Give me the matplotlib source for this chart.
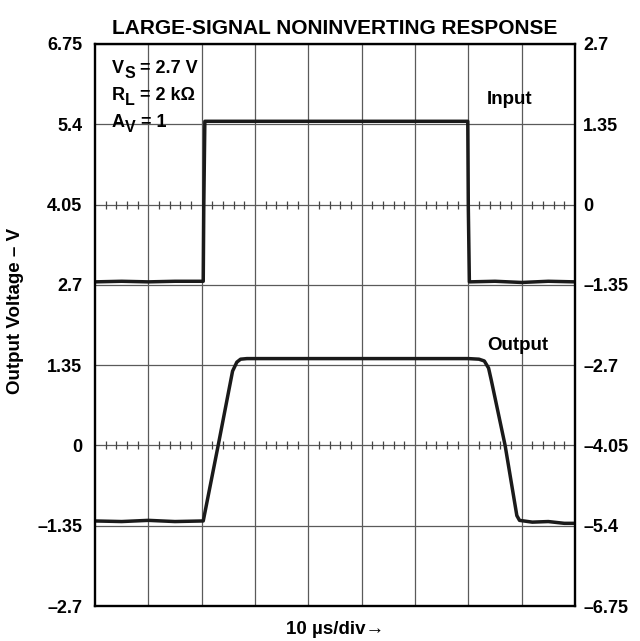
"""Large-signal noninverting response (scope trace)"""

import matplotlib
matplotlib.use('Agg')
from matplotlib import pyplot as plt
from matplotlib.transforms import IdentityTransform

plt.rcParams['font.family'] = ['Liberation Sans', 'DejaVu Sans']
plt.rcParams['font.weight'] = 'bold'

# time in us (10 us/div, 9 divisions)
input_t = [0, 5, 10, 15, 20.3, 20.4, 20.6, 30, 45, 60, 69.9, 70.0, 70.2, 75, 80, 85, 90]
input_v = [2.75, 2.76, 2.75, 2.76, 2.76, 4.0, 5.45, 5.45, 5.45, 5.45, 5.45, 4.0, 2.75, 2.76, 2.74, 2.76, 2.75]

output_t = [0, 5, 10, 15, 20.3, 23.1, 25.8, 26.6, 27.3, 28.5, 40, 55, 70, 72.0, 73.0, 73.8, 74.3,
            76.9, 79.1, 79.6, 82, 85, 88, 90]
output_v = [-1.27, -1.28, -1.26, -1.28, -1.27, 0.0, 1.25, 1.40, 1.45, 1.46, 1.46, 1.46, 1.46, 1.45,
            1.42, 1.30, 1.10, 0.0, -1.18, -1.26, -1.29, -1.28, -1.31, -1.31]

left_ticks = [-2.7, -1.35, 0, 1.35, 2.7, 4.05, 5.4, 6.75]
left_labels = ['\u20132.7', '\u20131.35', '0', '1.35', '2.7', '4.05', '5.4', '6.75']
right_ticks = [-6.75, -5.4, -4.05, -2.7, -1.35, 0, 1.35, 2.7]
right_labels = ['\u20136.75', '\u20135.4', '\u20134.05', '\u20132.7', '\u20131.35', '0', '1.35', '2.7']

fig = plt.figure(figsize=(6.4, 6.41), dpi=100)
ax = fig.add_axes([0.1484, 0.0546, 0.75, 0.8768])

ax.set_xlim(0, 90)
ax.set_ylim(-2.7, 6.75)
ax.set_xticks([10 * i for i in range(1, 9)])
ax.set_xticklabels([])
ax.set_yticks(left_ticks)
ax.set_yticklabels(left_labels, fontsize=13, fontweight='bold')
ax.tick_params(length=0, pad=9)
ax.grid(True, color='#5a5a5a', linewidth=0.9)
for s in ax.spines.values():
    s.set_linewidth(1.7)

# small ticks on the two centre lines
sub_x = [i * 2 for i in range(1, 45) if i % 5 != 0]
for yc in (0, 4.05):
    ax.plot(sub_x, [yc] * len(sub_x), linestyle='none', marker='|', markersize=6,
            color='#444444', markeredgewidth=0.9)

ax.plot(input_t, input_v, color='#1a1a1a', linewidth=2.5, solid_joinstyle='round')
ax.plot(output_t, output_v, color='#1a1a1a', linewidth=2.5, solid_joinstyle='round')

ax2 = ax.twinx()
ax2.set_ylim(-6.75, 2.7)
ax2.set_yticks(right_ticks)
ax2.set_yticklabels(right_labels, fontsize=13, fontweight='bold')
ax2.tick_params(length=0, pad=6)
for s in ax2.spines.values():
    s.set_visible(False)

ax.set_title('LARGE-SIGNAL NONINVERTING RESPONSE', fontsize=15, fontweight='bold', pad=7)
ax.set_ylabel('Output Voltage \u2013 V', fontsize=13.5, fontweight='bold')
ax.yaxis.set_label_coords(-0.148, 0.525)
ax.set_xlabel('10 \u00b5s/div\u2192', fontsize=13.5, fontweight='bold', labelpad=2)

renderer = fig.canvas.get_renderer()


def sub_text(x, y, parts):
    """Teksti, jossa alaindeksit lähes täysikokoisina"""
    xd, yd = ax.transData.transform((x, y))
    for s, sub in parts:
        t = fig.text(xd, yd - (5 if sub else 0), s, fontsize=11.5 if sub else 13,
                     fontweight='bold', va='center', transform=IdentityTransform())
        xd = t.get_window_extent(renderer).x1


sub_text(3.2, 6.34, [('V', False), ('S', True), (' = 2.7 V', False)])
sub_text(3.2, 5.89, [('R', False), ('L', True), (' = 2 k\u03a9', False)])
sub_text(3.2, 5.43, [('A', False), ('V', True), (' = 1', False)])
ax.text(73.5, 5.81, 'Input', fontsize=13.5, fontweight='bold', va='center')
ax.text(73.5, 1.68, 'Output', fontsize=13.5, fontweight='bold', va='center')

fig.savefig('out.png', dpi=100)
